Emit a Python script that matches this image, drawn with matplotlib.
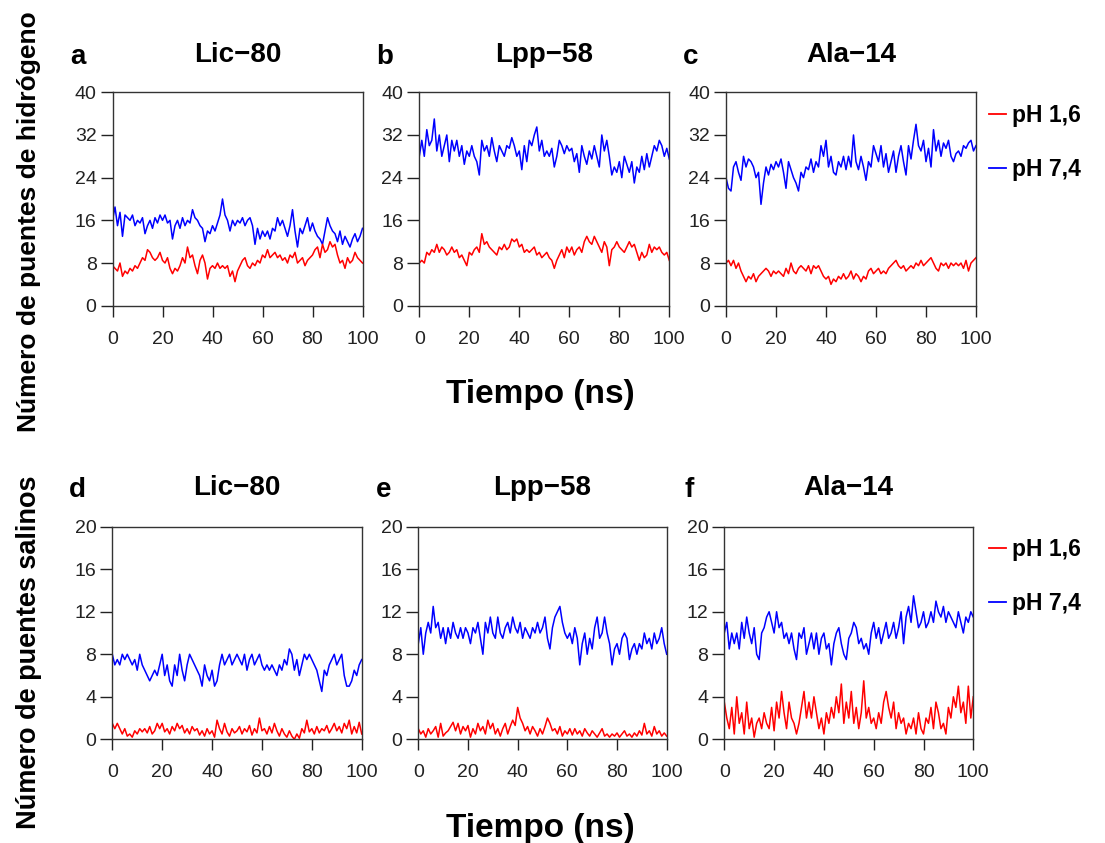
import matplotlib
matplotlib.use("Agg")
import matplotlib.pyplot as plt
from matplotlib.lines import Line2D

plt.rcParams['font.family'] = ['Liberation Sans', 'DejaVu Sans']

# tiempo (ns), one sample per ns
tiempo = list(range(0, 101))

titulos = ['Lic\u221280', 'Lpp\u221258', 'Ala\u221214']
letras_arriba = ['a', 'b', 'c']
letras_abajo = ['d', 'e', 'f']
etiquetas = ['pH 1,6', 'pH 7,4']

# puentes de hidrogeno
hb_lic_16 = [7.5, 7, 6.5, 8, 5.5, 6.5, 6, 7, 6.5, 7.5, 7, 8, 9, 8.5, 10.5, 10, 9, 8.5, 9, 10,
             8.5, 8, 9, 7, 6, 7, 6.5, 7.5, 9, 8, 11, 9, 9.5, 7.5, 6, 8.5, 9.5, 8, 5, 7,
             7.5, 7, 8, 7, 7.5, 7, 7.5, 5.5, 6.5, 4.5, 6.5, 7.5, 8.5, 9, 7.5, 7, 8, 7.5, 8.5, 8,
             9.5, 9, 10.5, 9, 9.5, 10, 9, 9.5, 8.5, 9, 8, 9.5, 9, 10, 8, 8.5, 9, 7.5, 8.5, 9,
             9.5, 10.5, 11, 9, 11.5, 10, 10.5, 12, 11, 11.5, 9.5, 8, 8.5, 7, 9, 8, 8.5, 10, 9, 8.5,
             8]
hb_lic_74 = [16, 18.5, 15, 17.5, 13, 17, 16.5, 16, 17, 15, 16, 15.5, 16.5, 13.5, 15, 16, 14.5, 16.5, 15.5, 17,
             16, 17, 15.5, 16, 12.5, 15, 16, 14.5, 16.5, 15, 16, 15.5, 18, 16.5, 16, 15, 14.5, 12, 14, 13.5,
             15, 14, 15.5, 17, 20, 17, 16, 14, 16, 15, 16, 15.5, 16.5, 15, 16, 16.5, 15, 11.5, 14.5, 12.5,
             14, 13, 14, 12.5, 14.5, 14, 16.5, 15, 16, 14.5, 13, 15, 18, 14, 11, 14.5, 13.5, 15, 16.5, 14,
             15.5, 14, 13, 12.5, 11.5, 14, 16.5, 15, 14, 13.5, 12, 14, 11.5, 13, 12, 11, 12.5, 13.5, 12, 13,
             14.5]
hb_lpp_16 = [8, 8.5, 8, 10, 9.5, 10.5, 10, 11.5, 10, 11, 10.5, 9.5, 10, 11, 10, 10.5, 9, 9.5, 8.5, 7.5,
             10, 9.5, 10.5, 11, 10, 13.5, 11.5, 12, 11, 10.5, 10, 9.5, 11, 10.5, 11.5, 10.5, 11, 12.5, 12, 12.5,
             11, 11.5, 10, 10.5, 10, 10.5, 11, 9.5, 10, 9, 9.5, 10, 9, 8.5, 7, 8.5, 9.5, 10.5, 9, 11,
             10, 11, 9.5, 10.5, 11, 10, 12, 13, 12, 11.5, 13, 12, 11, 10, 12, 11, 7.5, 10.5, 11, 12,
             11, 10.5, 10, 11, 12, 11, 11.5, 10, 8.5, 10, 9, 9.5, 11.5, 10, 11, 10.5, 11, 10, 9.5, 10,
             8.5]
hb_lpp_74 = [28, 31, 28, 33, 30, 31, 35, 29, 32, 28, 30, 32, 27, 31, 29, 31, 28, 30, 26.5, 29,
             28, 30, 28, 27, 24.5, 31, 29, 30, 28, 31.5, 29, 27, 30, 29, 28, 30, 29.5, 31.5, 30, 28,
             29, 25.5, 30, 27, 31, 30, 32, 33.5, 29, 31, 28, 29, 28, 29.5, 26, 28, 31, 30, 28.5, 30,
             29, 29.5, 27, 28.5, 25, 30, 28, 26.5, 29, 27.5, 30, 28, 26, 32, 29, 31, 28, 24.5, 26, 25,
             27, 24, 28, 26.5, 25, 27, 23, 26, 25, 28, 25.5, 28.5, 26, 28, 30, 29, 31, 30, 28, 29.5,
             27.5]
hb_ala_16 = [8, 8.5, 7.5, 8.5, 7, 8, 6.5, 5.5, 4.5, 5.5, 5, 6, 4.5, 5.5, 6, 6.5, 7, 6.5, 5.5, 6.5,
             6, 6.5, 6, 5.5, 7, 6, 8, 6.5, 6, 7, 7.5, 7, 6.5, 7.5, 6, 7.5, 7, 7.5, 6.5, 5.5,
             5, 5.5, 4, 5, 4.5, 5.5, 5, 6, 5, 5.5, 6.5, 5, 6, 5.5, 4.5, 5.5, 5, 6.5, 7, 6,
             6.5, 7, 6, 6.5, 6, 7, 7.5, 8, 8.5, 7.5, 7, 7.5, 6.5, 7, 7.5, 7, 8, 7.5, 8.5, 7.5,
             8, 8.5, 9, 8, 7, 6.5, 8, 7.5, 8, 7, 8, 7.5, 8, 7.5, 8, 7, 8.5, 6.5, 8, 8.5,
             9]
hb_ala_74 = [24, 22, 21.5, 26, 27, 25, 23.5, 28, 26, 27.5, 27, 26, 24, 25, 19, 23, 26, 24.5, 26.5, 25.5,
             27, 26, 27.5, 25, 22, 27, 25.5, 24, 23, 21.5, 25, 24, 26, 25.5, 27.5, 25, 27, 26, 30, 28,
             31, 26, 28, 25, 24.5, 27, 26, 28, 25.5, 28, 26, 32, 27, 25.5, 28, 26, 23.5, 27, 26, 30,
             28.5, 27, 30, 26, 28.5, 25, 27, 29, 25, 28, 30, 27, 24.5, 30, 27.5, 31, 34, 30, 29, 31,
             27, 29.5, 26, 33, 29, 31, 28, 30.5, 29.5, 31, 28, 27, 28.5, 29, 28, 30, 29.5, 30.5, 31, 29,
             30]

# puentes salinos
sb_lic_16 = [1.5, 1, 1.5, 1, 0.5, 1, 0.3, 0.5, 0.2, 0.8, 0.5, 1, 0.7, 1, 0.6, 1.2, 0.5, 0.8, 1.5, 1,
             1.5, 0.7, 1, 0.5, 1.2, 0.8, 1.5, 1, 1.3, 0.6, 1, 0.5, 1.2, 0.8, 1, 0.4, 0.8, 0.3, 1, 0.5,
             0.8, 0.2, 1.8, 1, 0.5, 1.5, 0.7, 0.3, 1, 0.6, 0.8, 1.2, 0.5, 1, 0.7, 1.3, 0.4, 1, 0.6, 2,
             0.8, 1, 0.5, 1.2, 0.6, 1.5, 0.8, 0.3, 1, 0.5, 0.2, 0.8, 0.3, 0, 0.5, 0.1, 1, 0.6, 1.8, 0.7,
             1, 0.5, 1.2, 0.6, 1, 0.8, 1.3, 0.6, 1, 1.5, 0.8, 1.2, 0.6, 1.5, 1, 1.8, 0.5, 1.2, 0.6, 1.6,
             0.5]
sb_lic_74 = [8, 7, 7.5, 7, 8, 7.5, 8, 7.5, 7, 7.5, 6.5, 8, 7, 6.5, 6, 5.5, 6, 6.5, 6, 7,
             8, 6, 7, 5.5, 5, 7, 6, 8, 6.5, 5.5, 7, 8, 7.5, 7, 6.5, 6, 5, 7, 6, 5.5,
             6.5, 5, 5.5, 7, 8, 7, 7.5, 8, 7, 7.5, 8, 7.5, 7, 8, 6.5, 7.5, 8, 7, 7.5, 8,
             7, 6.5, 7, 6.5, 7, 6.5, 6, 7, 6.5, 7.5, 7, 8.5, 8, 6.5, 7.5, 6, 7, 8, 7.5, 8,
             7.5, 7, 6.5, 5.5, 4.5, 6.5, 6, 7, 7.5, 8, 7, 7.5, 8, 6, 5, 5, 5.5, 6.5, 6, 7,
             7.5]
sb_lpp_16 = [1, 0.5, 0.8, 0.2, 1, 0.5, 0.8, 1.2, 0.2, 1.5, 0.3, 0.6, 0.8, 1.2, 1.6, 0.8, 1.5, 0.5, 1.2, 0.8,
             1.3, 0.2, 1, 0.5, 1.5, 0.8, 1.2, 0.5, 1.8, 1, 1.5, 0.5, 1, 0.3, 1, 1.5, 0.5, 1.2, 1.8, 1.3,
             3, 2, 1.5, 0.8, 1.2, 0.5, 1.2, 0.8, 0.3, 1, 0.5, 1.2, 2, 1.5, 0.8, 1, 0.5, 1.2, 0.3, 0.8,
             0.5, 1, 0.4, 1, 0.5, 0.8, 0.3, 1, 0.6, 0.3, 0.8, 0.5, 0.2, 0.6, 1, 0.3, 0.5, 0.2, 0.5, 0.3,
             0.6, 0.2, 0.5, 0.8, 0.3, 0.5, 0.2, 0.6, 0.3, 0.8, 0.4, 1.5, 0.5, 0.8, 0.3, 1.2, 0.5, 0.8, 0.3, 0.6,
             0.3]
sb_lpp_74 = [9, 10.5, 8, 10, 11, 10, 12.5, 10.5, 11, 9.5, 10.5, 9, 10.5, 9.5, 11, 10, 9.5, 10.5, 9.5, 10.5,
             10, 9, 10.5, 10, 11, 9.5, 8, 11, 10, 11.5, 10, 9.5, 11.5, 10, 9.5, 10.5, 11, 10, 11.5, 10.5,
             10, 11, 9.5, 10.5, 10, 9.5, 10.5, 10, 11, 10, 10.5, 11.5, 9.5, 8.5, 10.5, 11.5, 12, 12.5, 11, 10,
             9.5, 10, 9, 10.5, 9.5, 7, 9, 10, 8, 9.5, 8.5, 10.5, 11.5, 9.5, 10, 11.5, 10, 9, 7, 8.5,
             9, 8, 9.5, 10, 9.5, 7.5, 8.5, 9, 8, 9, 8.5, 10, 9, 9.5, 8.5, 10, 9, 9.5, 10.5, 9,
             8]
sb_ala_16 = [3.5, 2, 1, 3, 0.5, 4, 1.5, 2.5, 0.5, 3.5, 1, 2, 0.2, 1.5, 2, 1, 2.5, 1.5, 1, 3,
             0.8, 3.5, 2, 4.5, 2.5, 1, 3.5, 2, 1.5, 0.5, 1.5, 3, 4.5, 2, 3.5, 2, 4, 2.5, 1, 2,
             0.5, 2.5, 1.5, 3, 2, 4, 2.5, 5.2, 1.5, 3.5, 2, 4.5, 1.5, 3, 1, 2.5, 5.5, 2, 3, 1.5,
             2, 1, 2.5, 1.5, 3.5, 4.5, 3, 2, 3.5, 1, 2.5, 1.5, 2, 0.5, 1.5, 1, 2, 0.5, 2.5, 1,
             0.5, 2, 1.5, 3, 1, 3.5, 2.5, 1, 1.5, 0.5, 3, 2, 4, 3, 5, 2.5, 3.5, 1.5, 5, 2,
             4]
sb_ala_74 = [10, 11, 8.5, 10, 9, 10, 8.5, 11, 9.5, 11.5, 10, 9, 10.5, 8, 7.5, 10, 10.5, 11.5, 12, 11,
             10, 12, 10.5, 11, 9.5, 10, 9, 10, 8.5, 7.5, 10, 9.5, 10.5, 8, 9, 10, 8.5, 10, 8, 9.5,
             10, 8.5, 9, 7, 9, 10, 10.5, 9, 8, 7.5, 9.5, 10, 11, 10.5, 9, 9.5, 8.5, 9, 8, 10,
             11, 9.5, 10.5, 9, 10, 11, 9.5, 10, 11, 9.5, 10.5, 12, 9, 11.5, 12.5, 11, 13.5, 12, 10.5, 11,
             12, 10.5, 11, 12, 11, 13, 12, 11.5, 12.5, 11, 12, 11.5, 11, 10.5, 12, 11, 10, 11.5, 11, 12,
             11.5]

fila_hb = [(hb_lic_16, hb_lic_74), (hb_lpp_16, hb_lpp_74), (hb_ala_16, hb_ala_74)]
fila_sb = [(sb_lic_16, sb_lic_74), (sb_lpp_16, sb_lpp_74), (sb_ala_16, sb_ala_74)]

W, H = 1105, 843
fig = plt.figure(figsize=(W / 100, H / 100), dpi=100)

# axes boxes in pixels: (left, right, top, bottom)
cajas_arriba = [(112.5, 362.5, 92.3, 305.7), (419.3, 669.3, 92.3, 305.7), (726, 976, 92.3, 305.7)]
cajas_abajo = [(112.3, 361.7, 526.7, 739.3), (418.3, 666.7, 526.7, 739.3), (724.3, 973.3, 526.7, 739.3)]


def panel(caja, datos, titulo, letra, ymax, ystep, y_base):
    l, r, t, b = caja
    ax = fig.add_axes([l / W, 1 - b / H, (r - l) / W, (b - t) / H])
    ax.plot(tiempo, datos[1], color='#0000ff', lw=1.1)
    ax.plot(tiempo, datos[0], color='#ff0000', lw=1.1)
    ax.set_xlim(0, 100)
    ax.set_ylim(0, ymax)
    ax.set_xticks(range(0, 101, 20))
    ax.set_yticks(range(0, ymax + 1, ystep))
    ax.tick_params(axis='x', length=8, width=1, pad=10, labelsize=14, colors='#222222')
    ax.tick_params(axis='y', length=9, width=1, pad=2.5, labelsize=14, colors='#222222')
    for s in ax.spines.values():
        s.set_color('#333333')
        s.set_linewidth(1.0)
    fig.text((l + r) / 2 / W, 1 - y_base / H, titulo, fontsize=20, fontweight='bold',
             ha='center', va='baseline')
    fig.text((l - 35) / W, 1 - (y_base + 2) / H, letra,
             fontsize=20, fontweight='bold', ha='center', va='baseline')
    return ax


for i in range(3):
    panel(cajas_arriba[i], fila_hb[i], titulos[i], letras_arriba[i], 40, 8, 62)
    panel(cajas_abajo[i], fila_sb[i], titulos[i], letras_abajo[i], 20, 4, 495)

fig.text(540 / W, 1 - 395 / H, 'Tiempo (ns)', fontsize=24, fontweight='bold', ha='center', va='center')
fig.text(540 / W, 1 - 828 / H, 'Tiempo (ns)', fontsize=24, fontweight='bold', ha='center', va='center')
fig.text(29 / W, 1 - 222 / H, 'Número de puentes de hidrógeno', fontsize=19, fontweight='bold',
         rotation=90, ha='center', va='center')
fig.text(29 / W, 1 - 652 / H, 'Número de puentes salinos', fontsize=19.5, fontweight='bold',
         rotation=90, ha='center', va='center')

manijas = [Line2D([], [], color='#ff0000', lw=1.3), Line2D([], [], color='#0000ff', lw=1.3)]
for ytop in (104, 538):
    fig.legend(manijas, etiquetas, loc='upper left', bbox_to_anchor=(989 / W, 1 - ytop / H),
               frameon=False, handlelength=0.75, handletextpad=0.25, labelspacing=1.35,
               borderpad=0, borderaxespad=0, prop={'weight': 'bold', 'size': 16.5})

fig.savefig('out.png', dpi=100)
